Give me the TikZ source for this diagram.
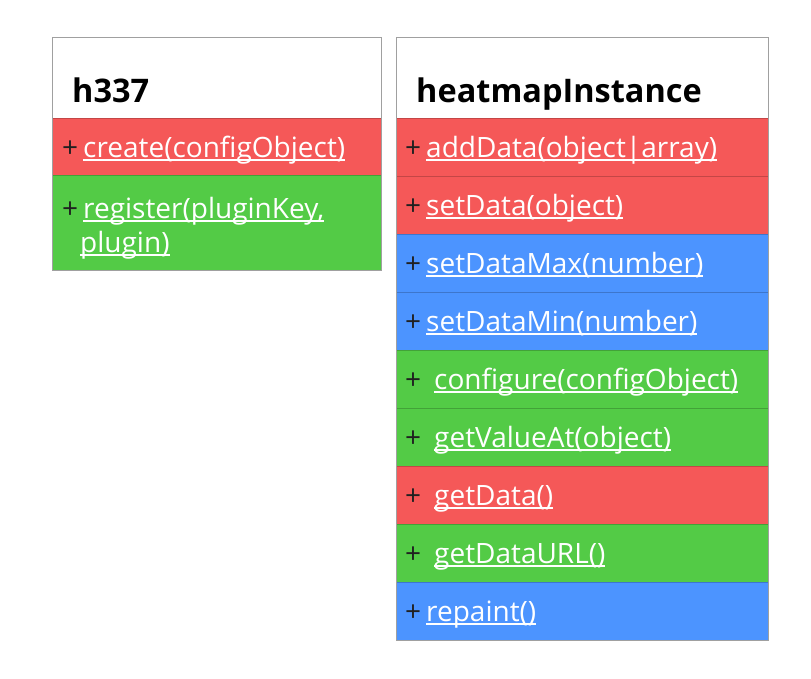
\documentclass[tikz,border=0pt]{standalone}
\usepackage{fontspec}
\setmainfont{Open Sans}
\usepackage{tikz}
\definecolor{rowred}{HTML}{F55858}
\definecolor{rowgreen}{HTML}{53CB46}
\definecolor{rowblue}{HTML}{4C94FF}
\definecolor{boxgray}{HTML}{A0A0A0}
\definecolor{plusdark}{HTML}{202020}
\newsavebox{\lnkbox}
\newcommand{\lnk}[1]{\sbox{\lnkbox}{#1}\rlap{\rule[-3.5pt]{\wd\lnkbox}{1.6pt}}\usebox{\lnkbox}}
\newcommand{\meth}[2][5pt]{\textcolor{plusdark}{+}\hspace{#1}\lnk{#2}}

\begin{document}
\begin{tikzpicture}[x=1pt,y=-1pt,
    head/.style={fill=white, anchor=north west, inner xsep=20pt, inner ysep=0pt,
      align=left, font=\bfseries\fontsize{32.5}{38}\selectfont,
      text height=65pt, text depth=16pt},
    row/.style={fill=#1, draw=#1!80!black, anchor=north west, inner ysep=0pt,
      align=left, text=white, font=\fontsize{28}{34}\selectfont,
      text height=39pt, text depth=19pt}]
  \useasboundingbox (0,0) rectangle (811,678);

  % h337
  \node (h337) at (52,37) [head, text width=289pt] {h337};
  \node (create) at (52,118) [row=rowred, inner xsep=10pt, text width=309pt,
      text depth=18pt] {\meth{create(configObject)}};
  \node (register) at (52,175) [row=rowgreen, inner xsep=10pt, text width=309pt,
      text height=43pt, text depth=52pt]
      {\meth{register(pluginKey,}\\\hspace*{18pt}\lnk{plugin)}};
  \draw[boxgray] (h337.north west) rectangle (register.south east);

  % heatmapInstance
  \node (inst) at (396,37) [head, text width=332pt] {heatmapInstance};
  \node (addData) at (396,118) [row=rowred, inner xsep=9pt, text width=354pt]
      {\meth{addData(object|array)}};
  \node (setData) at (396,176) [row=rowred, inner xsep=9pt, text width=354pt]
      {\meth{setData(object)}};
  \node (setMax) at (396,234) [row=rowblue, inner xsep=9pt, text width=354pt]
      {\meth{setDataMax(number)}};
  \node (setMin) at (396,292) [row=rowblue, inner xsep=9pt, text width=354pt]
      {\meth{setDataMin(number)}};
  \node (configure) at (396,350) [row=rowgreen, inner xsep=9pt, text width=354pt]
      {\meth[13pt]{configure(configObject)}};
  \node (getValue) at (396,408) [row=rowgreen, inner xsep=9pt, text width=354pt]
      {\meth[13pt]{getValueAt(object)}};
  \node (getData) at (396,466) [row=rowred, inner xsep=9pt, text width=354pt]
      {\meth[13pt]{getData()}};
  \node (getURL) at (396,524) [row=rowgreen, inner xsep=9pt, text width=354pt]
      {\meth[13pt]{getDataURL()}};
  \node (repaint) at (396,582) [row=rowblue, inner xsep=9pt, text width=354pt]
      {\meth{repaint()}};
  \draw[boxgray] (inst.north west) rectangle (repaint.south east);
\end{tikzpicture}
\end{document}
